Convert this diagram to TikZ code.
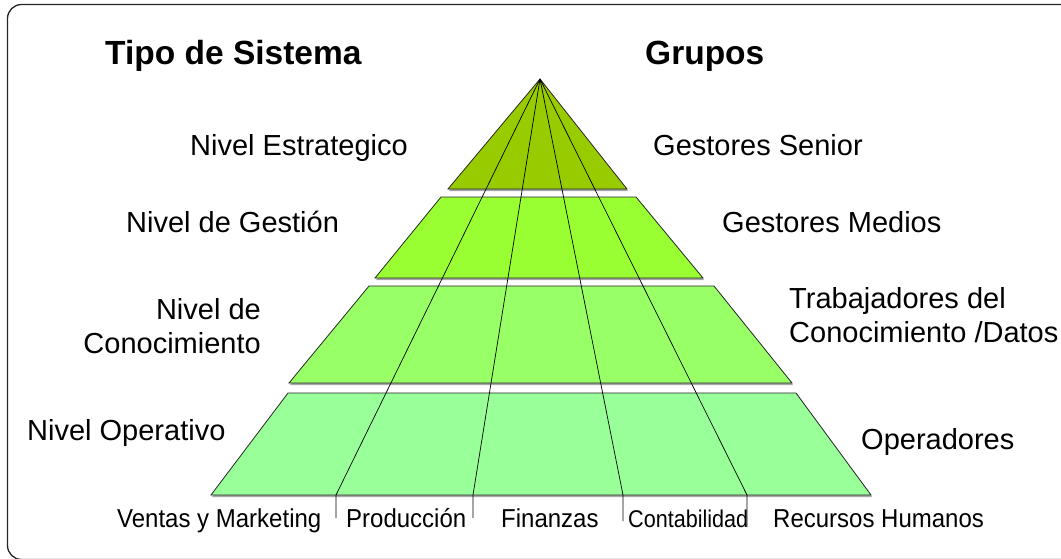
\documentclass[tikz,border=0pt]{standalone}
\usepackage{fontspec}
\setmainfont{Liberation Sans}
\newcommand{\tallA}[1]{\scalebox{1}[1.08]{#1}}
\newcommand{\tallB}[1]{\scalebox{1}[1.12]{#1}}
\begin{document}
\begin{tikzpicture}[x=1pt,y=-1pt,
  lbl/.style={anchor=base west,inner sep=0pt,font=\fontsize{29}{33}\selectfont},
  hdr/.style={anchor=base west,inner sep=0pt,font=\fontsize{33.5}{38}\selectfont\bfseries},
  cat/.style={anchor=base west,inner sep=0pt,font=\fontsize{24}{28}\selectfont},
  level/.style={draw=black!85,line width=0.8pt,line join=miter},
  levelshadow/.style={fill=black!35,draw=none},
  divider/.style={draw=black,line width=0.7pt},
  frame/.style={draw=black!85,line width=1.3pt,rounded corners=14pt}]
\useasboundingbox (0,0) rectangle (1061,558);
\draw[frame] (1090,4.5) -- (7.5,4.5) -- (7.5,559.5) -- (1090,559.5);

% levels (shadow first)
\fill[levelshadow] (541,80) -- (628,191) -- (449,191) -- cycle;
\fill[levelshadow] (442,198) -- (637,198) -- (704,280) -- (376,280) -- cycle;
\fill[levelshadow] (370,287) -- (715,287) -- (793,385) -- (290,385) -- cycle;
\fill[levelshadow] (289,394) -- (797,394) -- (872,497) -- (212,497) -- cycle;

\draw[level,fill={rgb,255:red,153;green,204;blue,0}] (540,79) -- (627,189) -- (448,189) -- cycle;
\draw[level,fill={rgb,255:red,153;green,255;blue,51}] (441,197) -- (636,197) -- (703,278) -- (375,278) -- cycle;
\draw[level,fill={rgb,255:red,153;green,255;blue,102}] (369,286) -- (714,286) -- (792,383) -- (289,383) -- cycle;
\draw[level,fill={rgb,255:red,153;green,255;blue,153}] (288,393) -- (796,393) -- (871,495) -- (211,495) -- cycle;

% dividers
\coordinate (apex) at (540,79);
\coordinate (f1) at (336,495); \coordinate (e1) at (336,518);
\coordinate (f2) at (473,495); \coordinate (e2) at (473,518);
\coordinate (f3) at (623,495); \coordinate (e3) at (623,521);
\coordinate (f4) at (747,495); \coordinate (e4) at (747,527);
\draw[divider] (apex) -- (f1) -- (e1);
\draw[divider] (apex) -- (f2) -- (e2);
\draw[divider] (apex) -- (f3) -- (e3);
\draw[divider] (apex) -- (f4) -- (e4);

% headers
\node[hdr] (tipo) at (105,64) {Tipo de Sistema};
\node[hdr] (grupos) at (645,64) {Grupos};

% left labels
\node[lbl] (n1) at (190,155) {Nivel Estrategico};
\node[lbl] (n2) at (126,232) {Nivel de Gestión};
\node[lbl,anchor=base east] (n3a) at (261,319) {Nivel de};
\node[lbl,anchor=base east] (n3b) at (261,353) {Conocimiento};
\node[lbl] (n4) at (27,440) {Nivel Operativo};

% right labels
\node[lbl] (g1) at (653,155) {Gestores Senior};
\node[lbl] (g2) at (722,232) {Gestores Medios};
\node[lbl] (g3a) at (789,308) {Trabajadores del};
\node[lbl] (g3b) at (789,342) {Conocimiento /Datos};
\node[lbl] (g4) at (861,449) {Operadores};

% bottom categories
\node[cat] (c1) at (117,527) {\tallA{Ventas y Marketing}};
\node[cat] (c2) at (346,527) {\tallA{Producción}};
\node[cat] (c3) at (501,527) {\tallA{Finanzas}};
\node[cat,font=\fontsize{21.6}{26}\selectfont] (c4) at (628,527) {\tallB{Contabilidad}};
\node[cat] (c5) at (773,527) {\tallA{Recursos Humanos}};
\end{tikzpicture}
\end{document}
